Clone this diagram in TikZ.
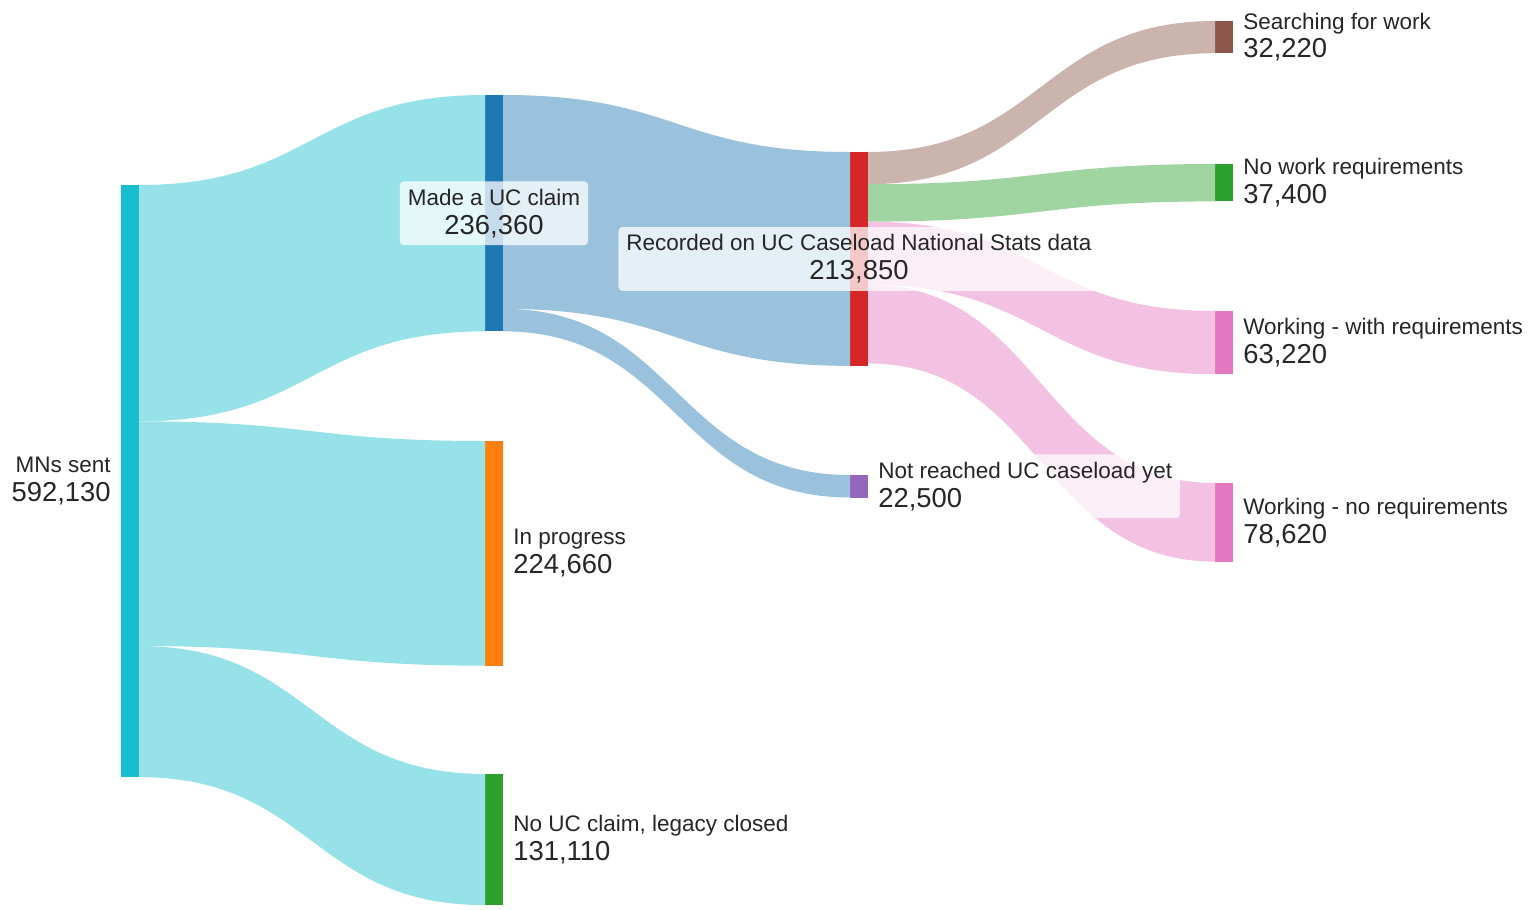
\documentclass[tikz,border=0pt]{standalone}
\usepackage{fontspec}
\setmainfont{Liberation Sans}
\usepackage{tikz}
\usetikzlibrary{positioning,calc}
\usepackage{xcolor}
\definecolor{mnscol}{RGB}{23,190,207}
\definecolor{claimcol}{RGB}{31,119,180}
\definecolor{progcol}{RGB}{255,127,14}
\definecolor{greencol}{RGB}{44,160,44}
\definecolor{reccol}{RGB}{214,39,40}
\definecolor{notyetcol}{RGB}{148,103,189}
\definecolor{searchcol}{RGB}{140,86,75}
\definecolor{workcol}{RGB}{227,119,194}
\newcommand{\numfont}{\fontsize{15.6}{16.5}\selectfont}
% band between two bars: src, src offset, tgt, tgt offset, width, colour
\newcommand{\flowband}[6]{%
  \path ($(#1.north east)+(0,#2)$) coordinate (s1)
        ($(#1.north east)+(0,{#2+#5})$) coordinate (s2)
        ($(#3.north west)+(0,#4)$) coordinate (t1)
        ($(#3.north west)+(0,{#4+#5})$) coordinate (t2)
        ($(s1)!0.5!(t1)$) coordinate (m);
  \fill[#6] (s1) .. controls (m |- s1) and (m |- t1) .. (t1)
    -- (t2) .. controls (m |- t2) and (m |- s2) .. (s2) -- cycle;}

\begin{document}
\begin{tikzpicture}[
    x=0.02cm, y=-0.02cm,
    bar/.style={rectangle,inner sep=0,outer sep=0,minimum width=0.36cm,
                minimum height={#1*0.02cm},anchor=north},
    lbl/.style={font=\fontsize{12.8}{16.5}\selectfont,text=black!85,
                fill=white,fill opacity=0.75,text opacity=1,rounded corners=0.08cm,
                inner xsep=0.16cm,inner ysep=0.15cm},
]
\useasboundingbox (0,0) rectangle (1533,909);

% bars
\node[bar=592.13,fill=mnscol] (mns) at (130,185) {};
\node[bar=236.36,fill=claimcol] (claim) at (494,95) {};
\node[bar=224.66,fill=progcol] (prog) at (494,441) {};
\node[bar=131.11,fill=greencol] (noclaim) at (494,774) {};
\node[bar=213.85,fill=reccol] (rec) at (859,152) {};
\node[bar=22.5,fill=notyetcol] (notyet) at (859,475) {};
\node[bar=32.22,fill=searchcol] (search) at (1224,21) {};
\node[bar=37.4,fill=greencol] (nowork) at (1224,164) {};
\node[bar=63.22,fill=workcol] (withreq) at (1224,311) {};
\node[bar=78.62,fill=workcol] (noreq) at (1224,483) {};

% flows
\flowband{mns}{0}{claim}{0}{236.36}{mnscol!45}
\flowband{mns}{236.36}{prog}{0}{224.66}{mnscol!45}
\flowband{mns}{461.02}{noclaim}{0}{131.11}{mnscol!45}
\flowband{claim}{0}{rec}{0}{213.85}{claimcol!45}
\flowband{claim}{213.85}{notyet}{0}{22.5}{claimcol!45}
\flowband{rec}{0}{search}{0}{32.22}{searchcol!45}
\flowband{rec}{32.22}{nowork}{0}{37.4}{greencol!45}
\flowband{rec}{69.62}{withreq}{0}{63.22}{workcol!45}
\flowband{rec}{132.84}{noreq}{0}{78.62}{workcol!45}

% labels
\node[lbl,align=right,left=0.04cm of mns] (mnslbl) {MNs sent\\{\numfont 592,130}};
\node[lbl,align=center] (claimlbl) at (claim) {Made a UC claim\\{\numfont 236,360}};
\node[lbl,align=left,right=0.04cm of prog] (proglbl) {In progress\\{\numfont 224,660}};
\node[lbl,align=left,right=0.04cm of noclaim] (noclaimlbl) {No UC claim, legacy closed\\{\numfont 131,110}};
\node[lbl,align=center] (reclbl) at (rec) {Recorded on UC Caseload National Stats data\\{\numfont 213,850}};
\node[lbl,align=left,right=0.04cm of notyet] (notyetlbl) {Not reached UC caseload yet\\{\numfont 22,500}};
\node[lbl,align=left,right=0.04cm of search] (searchlbl) {Searching for work\\{\numfont 32,220}};
\node[lbl,align=left,right=0.04cm of nowork] (noworklbl) {No work requirements\\{\numfont 37,400}};
\node[lbl,align=left,right=0.04cm of withreq] (withreqlbl) {Working - with requirements\\{\numfont 63,220}};
\node[lbl,align=left,right=0.04cm of noreq] (noreqlbl) {Working - no requirements\\{\numfont 78,620}};
\end{tikzpicture}
\end{document}
